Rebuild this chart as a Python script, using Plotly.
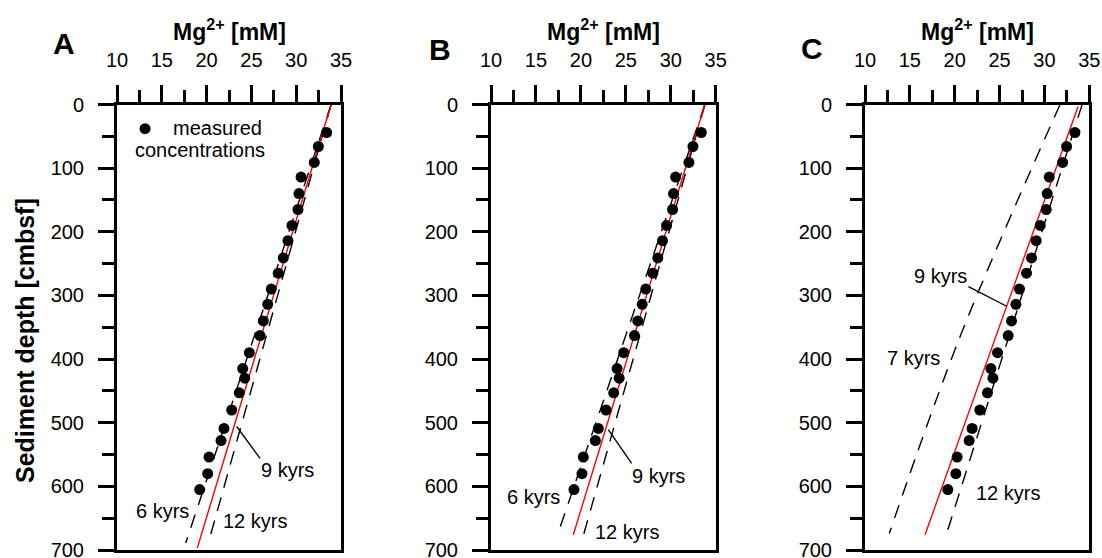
import plotly.graph_objects as go

# measured Mg2+ concentrations (same in all panels)
depth_meas = [44, 66, 91, 114, 140, 165, 190, 214, 241, 265, 290, 314, 340, 363,
              390, 415, 430, 453, 480, 509, 528, 554, 580, 605]
mg_meas = [33.40, 32.47, 32.02, 30.54, 30.31, 30.20, 29.53, 29.08, 28.56, 28.00,
           27.22, 26.82, 26.33, 25.96, 24.77, 24.03, 24.26, 23.65, 22.80, 21.94,
           21.61, 20.27, 20.12, 19.23]

# model profiles, panel A
A_9_depth = [0, 697];  A_9_mg = [33.9, 18.96]
A_6_depth = [0, 689];  A_6_mg = [33.9, 17.67]
A_12_depth = [0, 689]; A_12_mg = [33.9, 20.19]
# panel B
B_9_depth = [0, 676];  B_9_mg = [33.8, 19.16]
B_6_depth = [0, 676];  B_6_mg = [33.8, 17.4]
B_12_depth = [0, 676]; B_12_mg = [33.8, 20.3]
# panel C
C_9_depth = [3, 676];  C_9_mg = [33.75, 16.69]
C_7_depth = [0, 365, 674]; C_7_mg = [31.74, 20.59, 12.71]
C_12_depth = [0, 674]; C_12_mg = [34.2, 19.1]

x_ticks = [10, 15, 20, 25, 30, 35]
y_ticks = [0, 100, 200, 300, 400, 500, 600, 700]

FONT = "Liberation Sans, Arial, sans-serif"
W, H = 1102, 558

fig = go.Figure()

panels = [
    ("", (117, 341), [(A_6_mg, A_6_depth, "dash"), (A_12_mg, A_12_depth, "dash"), (A_9_mg, A_9_depth, "red")]),
    ("2", (491, 715.7), [(B_6_mg, B_6_depth, "dash"), (B_12_mg, B_12_depth, "dash"), (B_9_mg, B_9_depth, "red")]),
    ("3", (865, 1089.3), [(C_7_mg, C_7_depth, "dash"), (C_12_mg, C_12_depth, "dash"), (C_9_mg, C_9_depth, "red")]),
]

y_top_px, y_bot_px = 104.5, 550
for suf, (x0, x1), lines in panels:
    xa = "x" + suf
    ya = "y" + suf
    for mg, dp, sty in lines:
        if sty == "red":
            line = dict(color="#ff0000", width=1.4, shape="spline")
        else:
            line = dict(color="black", width=1.4, dash="14px,10px", shape="spline")
        fig.add_trace(go.Scatter(x=mg, y=dp, mode="lines", line=line,
                                 xaxis=xa, yaxis=ya, showlegend=False, hoverinfo="skip"))
    fig.add_trace(go.Scatter(x=mg_meas, y=depth_meas, mode="markers",
                             marker=dict(color="black", size=11),
                             xaxis=xa, yaxis=ya, showlegend=False))
    xkey = "xaxis" + suf
    ykey = "yaxis" + suf
    fig.update_layout(**{
        xkey: dict(domain=[x0 / W, x1 / W], anchor=ya, side="top", range=[10, 35],
                   tickvals=x_ticks, ticks="outside", ticklen=17, tickwidth=2.5,
                   tickcolor="black", showline=True, linewidth=3, linecolor="black",
                   mirror=True, showgrid=False, zeroline=False, automargin=False,
                   ticklabelstandoff=10, ticklabeloverflow="allow",
                   tickfont=dict(family=FONT, size=20, color="black"),
                   minor=dict(dtick=2.5, ticks="outside", ticklen=12, tickwidth=2.5,
                              tickcolor="black", showgrid=False)),
        ykey: dict(domain=[1 - y_bot_px / H, 1 - y_top_px / H], anchor=xa,
                   range=[700, 0], tickvals=y_ticks, ticks="outside", ticklen=16,
                   tickwidth=2.5, tickcolor="black", showline=True, linewidth=3,
                   linecolor="black", mirror=True, showgrid=False, zeroline=False,
                   automargin=False, ticklabelstandoff=10, ticklabeloverflow="allow",
                   tickfont=dict(family=FONT, size=20, color="black"),
                   minor=dict(dtick=50, ticks="outside", ticklen=12, tickwidth=2.5,
                              tickcolor="black", showgrid=False)),
    })

annotations = []
# axis titles and panel letters
for cx, letter, lx, ly in [(229, "A", 64, 44), (603, "B", 440, 49), (977, "C", 812, 48)]:
    annotations.append(dict(x=cx / W, y=1 - 30 / H, xref="paper", yref="paper",
                            text="<b>Mg<sup style='font-size:13px'>2+</sup> [mM]</b>",
                            showarrow=False,
                            font=dict(family=FONT, size=23, color="black"),
                            xanchor="center", yanchor="middle"))
    annotations.append(dict(x=lx / W, y=1 - ly / H, xref="paper", yref="paper",
                            text="<b>" + letter + "</b>", showarrow=False,
                            font=dict(family=FONT, size=30, color="black"),
                            xanchor="center", yanchor="middle"))
annotations.append(dict(x=25 / W, y=1 - 341 / H, xref="paper", yref="paper",
                        text="<b>Sediment depth [cmbsf]</b>", showarrow=False, textangle=-90,
                        font=dict(family=FONT, size=25, color="black"),
                        xanchor="center", yanchor="middle"))

label_font = dict(family=FONT, size=20, color="black")
labels = [
    ("", 29.03, 575, "9 kyrs"), ("", 15.13, 639, "6 kyrs"), ("", 25.40, 655, "12 kyrs"),
    ("2", 28.69, 584, "9 kyrs"), ("2", 14.78, 616, "6 kyrs"), ("2", 25.18, 671, "12 kyrs"),
    ("3", 18.36, 270, "9 kyrs"), ("3", 15.46, 398, "7 kyrs"), ("3", 25.89, 610, "12 kyrs"),
]
for suf, x, y, t in labels:
    annotations.append(dict(x=x, y=y, xref="x" + suf, yref="y" + suf, text=t,
                            showarrow=False, font=label_font,
                            xanchor="center", yanchor="middle"))

# legend text in panel A
annotations.append(dict(x=16.03, y=37, xref="x", yref="y", text="measured",
                        showarrow=False, font=label_font, xanchor="left", yanchor="middle"))
annotations.append(dict(x=11.79, y=71, xref="x", yref="y", text="concentrations",
                        showarrow=False, font=label_font, xanchor="left", yanchor="middle"))

# leader lines for the 9 kyrs labels
shapes = []
for suf, xa0, ya0, xa1, ya1 in [("", 23.36, 506, 25.96, 556),
                                 ("2", 23.05, 511, 25.65, 564),
                                 ("3", 21.52, 286, 25.80, 317)]:
    shapes.append(dict(type="line", xref="x" + suf, yref="y" + suf,
                       x0=xa0, y0=ya0, x1=xa1, y1=ya1,
                       line=dict(color="black", width=1.4)))

# legend marker
fig.add_trace(go.Scatter(x=[13.13], y=[38], mode="markers",
                         marker=dict(color="black", size=11),
                         xaxis="x", yaxis="y", showlegend=False))

fig.update_layout(width=W, height=H, margin=dict(l=0, r=0, t=0, b=0),
                  paper_bgcolor="white", plot_bgcolor="white",
                  annotations=annotations, shapes=shapes, showlegend=False)

fig.write_html("out.html")
